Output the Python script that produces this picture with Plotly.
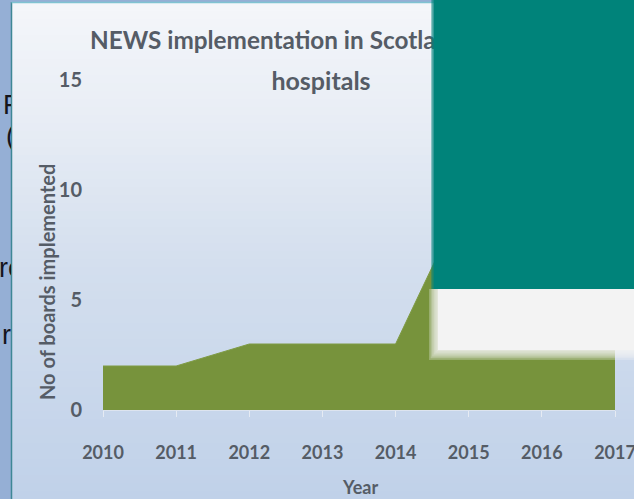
import plotly.graph_objects as go

# Boards that had implemented NEWS, by year
years = [2010, 2011, 2012, 2013, 2014, 2015, 2016, 2017]
boards = [2, 2, 3, 3, 3, 10, 14, 14]
y_ticks = [0, 5, 10, 15]

title_line1 = "NEWS implementation in Scotland's"
title_line2 = "hospitals"
x_title = "Year"
y_title = "No of boards implemented"

# Text fragments from the slide behind the chart (left strip)
frag_text = ["F", "(", "re", "r"]
frag_x = [3, 6, -1, 2]
frag_y = [107, 138, 270, 337]

W, H = 634, 499
PL, PR, PT, PB = 103, 615, 80, 410   # plot area in pixels

def fx(x):
    return x / W

def fy(y):
    return 1 - y / H

FONT = "Lato"
GREY = "#555c66"

fig = go.Figure()

fig.add_trace(go.Scatter(
    x=years, y=boards, mode="lines", fill="tozeroy",
    fillcolor="#77933c", line=dict(color="#7f9b45", width=1),
    hoverinfo="skip", showlegend=False,
))

# fragments of slide text, clipped to the narrow strip on the left
fig.add_trace(go.Scatter(
    x=frag_x, y=frag_y, text=frag_text, mode="text",
    textposition="middle right", cliponaxis=True,
    textfont=dict(family="Liberation Sans", size=27, color="#15151c"),
    xaxis="x2", yaxis="y2", hoverinfo="skip", showlegend=False,
))

# chart title, drawn as a trace so the overlapping boxes sit on top of it
fig.add_trace(go.Scatter(
    x=[90, 321], y=[43, 84], text=[title_line1, title_line2], mode="text",
    textposition=["middle right", "middle center"], cliponaxis=False,
    textfont=dict(family=FONT, size=[24.3, 25], color=GREY, weight="bold"),
    xaxis="x3", yaxis="y3", hoverinfo="skip", showlegend=False,
))

shapes = []

# outer blue strip on the left and top
shapes.append(dict(type="rect", xref="paper", yref="paper", x0=0, x1=1, y0=0, y1=1,
                   fillcolor="#95afd5", line_width=0, layer="below"))

# vertical gradient of the chart panel
stops = [(3, (244, 246, 250)), (120, (232, 237, 245)), (260, (212, 223, 238)),
         (499, (192, 209, 233))]

def col_at(y):
    for (ya, ca), (yb, cb) in zip(stops[:-1], stops[1:]):
        if ya <= y <= yb:
            t = (y - ya) / (yb - ya)
            return tuple(round(a + (b - a) * t) for a, b in zip(ca, cb))
    return stops[-1][1]

n_bands = 62
band_h = (H - 3) / n_bands
for i in range(n_bands):
    y0 = 3 + i * band_h
    y1 = y0 + band_h + 0.6
    c = col_at(y0 + band_h / 2)
    shapes.append(dict(type="rect", xref="paper", yref="paper",
                       x0=fx(12), x1=1, y0=fy(min(y1, H)), y1=fy(y0),
                       fillcolor="rgb(%d,%d,%d)" % c, line_width=0, layer="below"))

# panel edges
shapes.append(dict(type="line", xref="paper", yref="paper", x0=fx(11.5), x1=fx(11.5),
                   y0=0, y1=fy(2), line=dict(color="#3e8796", width=1.5), layer="below"))
shapes.append(dict(type="line", xref="paper", yref="paper", x0=fx(11.5), x1=1,
                   y0=fy(2.5), y1=fy(2.5), line=dict(color="#7fc3d2", width=1.5), layer="below"))

# light box overlapping the chart, with soft edges
for i in range(6):
    shapes.append(dict(type="rect", xref="paper", yref="paper",
                       x0=fx(437 - 1.6 * i), x1=1, y0=fy(351 + 1.8 * i), y1=fy(289),
                       fillcolor="#f3f3f3", opacity=0.28, line_width=0, layer="above"))
shapes.append(dict(type="rect", xref="paper", yref="paper",
                   x0=fx(438), x1=1, y0=fy(350), y1=fy(289),
                   fillcolor="#f3f3f3", line_width=0, layer="above"))

# teal box in the upper right
for i in range(3):
    shapes.append(dict(type="rect", xref="paper", yref="paper",
                       x0=fx(433 - i), x1=1, y0=fy(289), y1=1,
                       fillcolor="#00837a", opacity=0.4, line_width=0, layer="above"))
shapes.append(dict(type="rect", xref="paper", yref="paper",
                   x0=fx(434), x1=1, y0=fy(289), y1=1,
                   fillcolor="#00837a", line_width=0, layer="above"))

annotations = [
    dict(text=x_title, xref="paper", yref="paper", x=fx(360), y=fy(487),
         xanchor="center", yanchor="middle", showarrow=False,
         font=dict(family=FONT, size=18, color=GREY, weight="bold")),
    dict(text=y_title, xref="paper", yref="paper", x=fx(47), y=fy(282),
         xanchor="center", yanchor="middle", showarrow=False, textangle=-90,
         font=dict(family=FONT, size=20, color=GREY, weight="bold")),
]

overlay = dict(visible=False, automargin=False, fixedrange=True)

fig.update_layout(
    width=W, height=H,
    margin=dict(l=0, r=0, t=0, b=0, autoexpand=False),
    paper_bgcolor="#95afd5", plot_bgcolor="rgba(0,0,0,0)",
    shapes=shapes, annotations=annotations,
    xaxis=dict(domain=[fx(PL), fx(PR)], range=[2010, 2017], tickvals=years,
               ticktext=[str(y) for y in years], showgrid=False, zeroline=False,
               showline=True, linecolor="#dde4ef", linewidth=1, automargin=False,
               ticks="outside", ticklen=6, tickcolor="#e6ebf3", ticklabelstandoff=20,
               ticklabeloverflow="allow",
               tickfont=dict(family=FONT, size=18, color=GREY, weight="bold"),
               fixedrange=True),
    yaxis=dict(domain=[fy(PB), fy(PT)], range=[0, 15], tickvals=y_ticks,
               showgrid=False, zeroline=False, showline=False, ticks="",
               ticklabelstandoff=20, automargin=False, ticklabeloverflow="allow",
               tickfont=dict(family=FONT, size=20, color=GREY, weight="bold"),
               fixedrange=True),
    xaxis2=dict(domain=[0, fx(11)], range=[0, 11], anchor="y2", **overlay),
    yaxis2=dict(domain=[0, 1], range=[H, 0], anchor="x2", **overlay),
    xaxis3=dict(domain=[0, 1], range=[0, W], anchor="y3", **overlay),
    yaxis3=dict(domain=[0, 1], range=[H, 0], anchor="x3", **overlay),
)

fig.write_html("out.html")
